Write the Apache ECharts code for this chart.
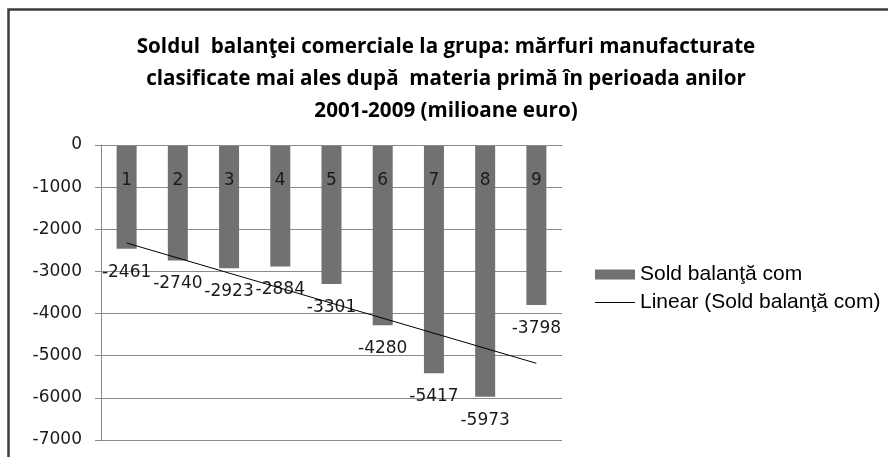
<!DOCTYPE html>
<html>
<head>
<meta charset="utf-8">
<script src="https://cdn.jsdelivr.net/npm/echarts@6/dist/echarts.min.js"></script>
<style>
  html, body { margin: 0; padding: 0; background: #fff; }
  #chart { width: 888px; height: 457px; }
</style>
</head>
<body>
<div id="chart"></div>
<script>
// categories (years 2001-2009 shown as 1..9)
var categories = ['1', '2', '3', '4', '5', '6', '7', '8', '9'];
// sold balanta comerciala, milioane euro
var soldValues = [-2461, -2740, -2923, -2884, -3301, -4280, -5417, -5973, -3798];
// linear trendline end points (first and last category)
var trendValues = [-2325, null, null, null, null, null, null, null, -5180];
var yTicks = { min: -7000, max: 0, step: 1000 };

var titleText = 'Soldul  balanţei comerciale la grupa: mărfuri manufacturate\n' +
  'clasificate mai ales după  materia primă în perioada anilor\n' +
  '2001-2009 (milioane euro)';

var axisFont = 'DejaVu Sans';
var gridGray = '#8a8a8a';

var chart = echarts.init(document.getElementById('chart'));
chart.setOption({
  animation: false,
  backgroundColor: '#fff',
  title: {
    text: titleText,
    left: 441,
    top: 26,
    textAlign: 'center',
    textStyle: {
      fontFamily: 'Open Sans',
      fontWeight: 'bold',
      fontSize: 20.6,
      lineHeight: 32,
      color: '#000'
    }
  },
  legend: {
    orient: 'vertical',
    left: 595,
    top: 264,
    padding: 0,
    itemWidth: 40,
    itemHeight: 10,
    itemGap: 7,
    textStyle: {
      fontFamily: 'Liberation Sans',
      fontSize: 21,
      color: '#000'
    },
    data: [
      { name: 'Sold balanţă com', icon: 'rect' },
      { name: 'Linear (Sold balanţă com)', icon: 'path://M0,0L40,0L40,1.2L0,1.2Z' }
    ]
  },
  grid: { left: 101, top: 145, width: 461, height: 295 },
  xAxis: {
    type: 'category',
    position: 'top',
    data: categories,
    z: 10,
    axisLine: { lineStyle: { color: gridGray, width: 1 } },
    axisTick: { inside: true, length: 7, lineStyle: { color: gridGray } },
    axisLabel: {
      inside: true,
      margin: 27,
      fontFamily: axisFont,
      fontSize: 17,
      color: '#1a1a1a'
    }
  },
  yAxis: {
    type: 'value',
    min: yTicks.min,
    max: yTicks.max,
    interval: yTicks.step,
    axisLine: { show: true, lineStyle: { color: gridGray } },
    axisTick: { show: true, length: 6, lineStyle: { color: gridGray } },
    splitLine: { lineStyle: { color: gridGray, width: 1 } },
    axisLabel: {
      margin: 19,
      fontFamily: axisFont,
      fontSize: 17,
      color: '#1a1a1a',
      formatter: function (v) { return String(v); }
    }
  },
  series: [{
    name: 'Sold balanţă com',
    type: 'bar',
    data: soldValues,
    barWidth: 20,
    itemStyle: { color: '#717171' },
    label: {
      show: true,
      position: 'bottom',
      distance: 15,
      fontFamily: axisFont,
      fontSize: 17,
      color: '#1a1a1a'
    },
    z: 2
  }, {
    name: 'Linear (Sold balanţă com)',
    type: 'line',
    data: trendValues,
    connectNulls: true,
    symbol: 'none',
    lineStyle: { color: '#000', width: 1 },
    itemStyle: { color: '#000' },
    z: 5
  }],
  graphic: [{
    type: 'polyline',
    shape: { points: [[8.5, 457], [8.5, 9.5], [888, 9.5]] },
    style: { stroke: '#3c3c3c', lineWidth: 2.5, fill: null },
    silent: true
  }]
});
</script>
</body>
</html>
